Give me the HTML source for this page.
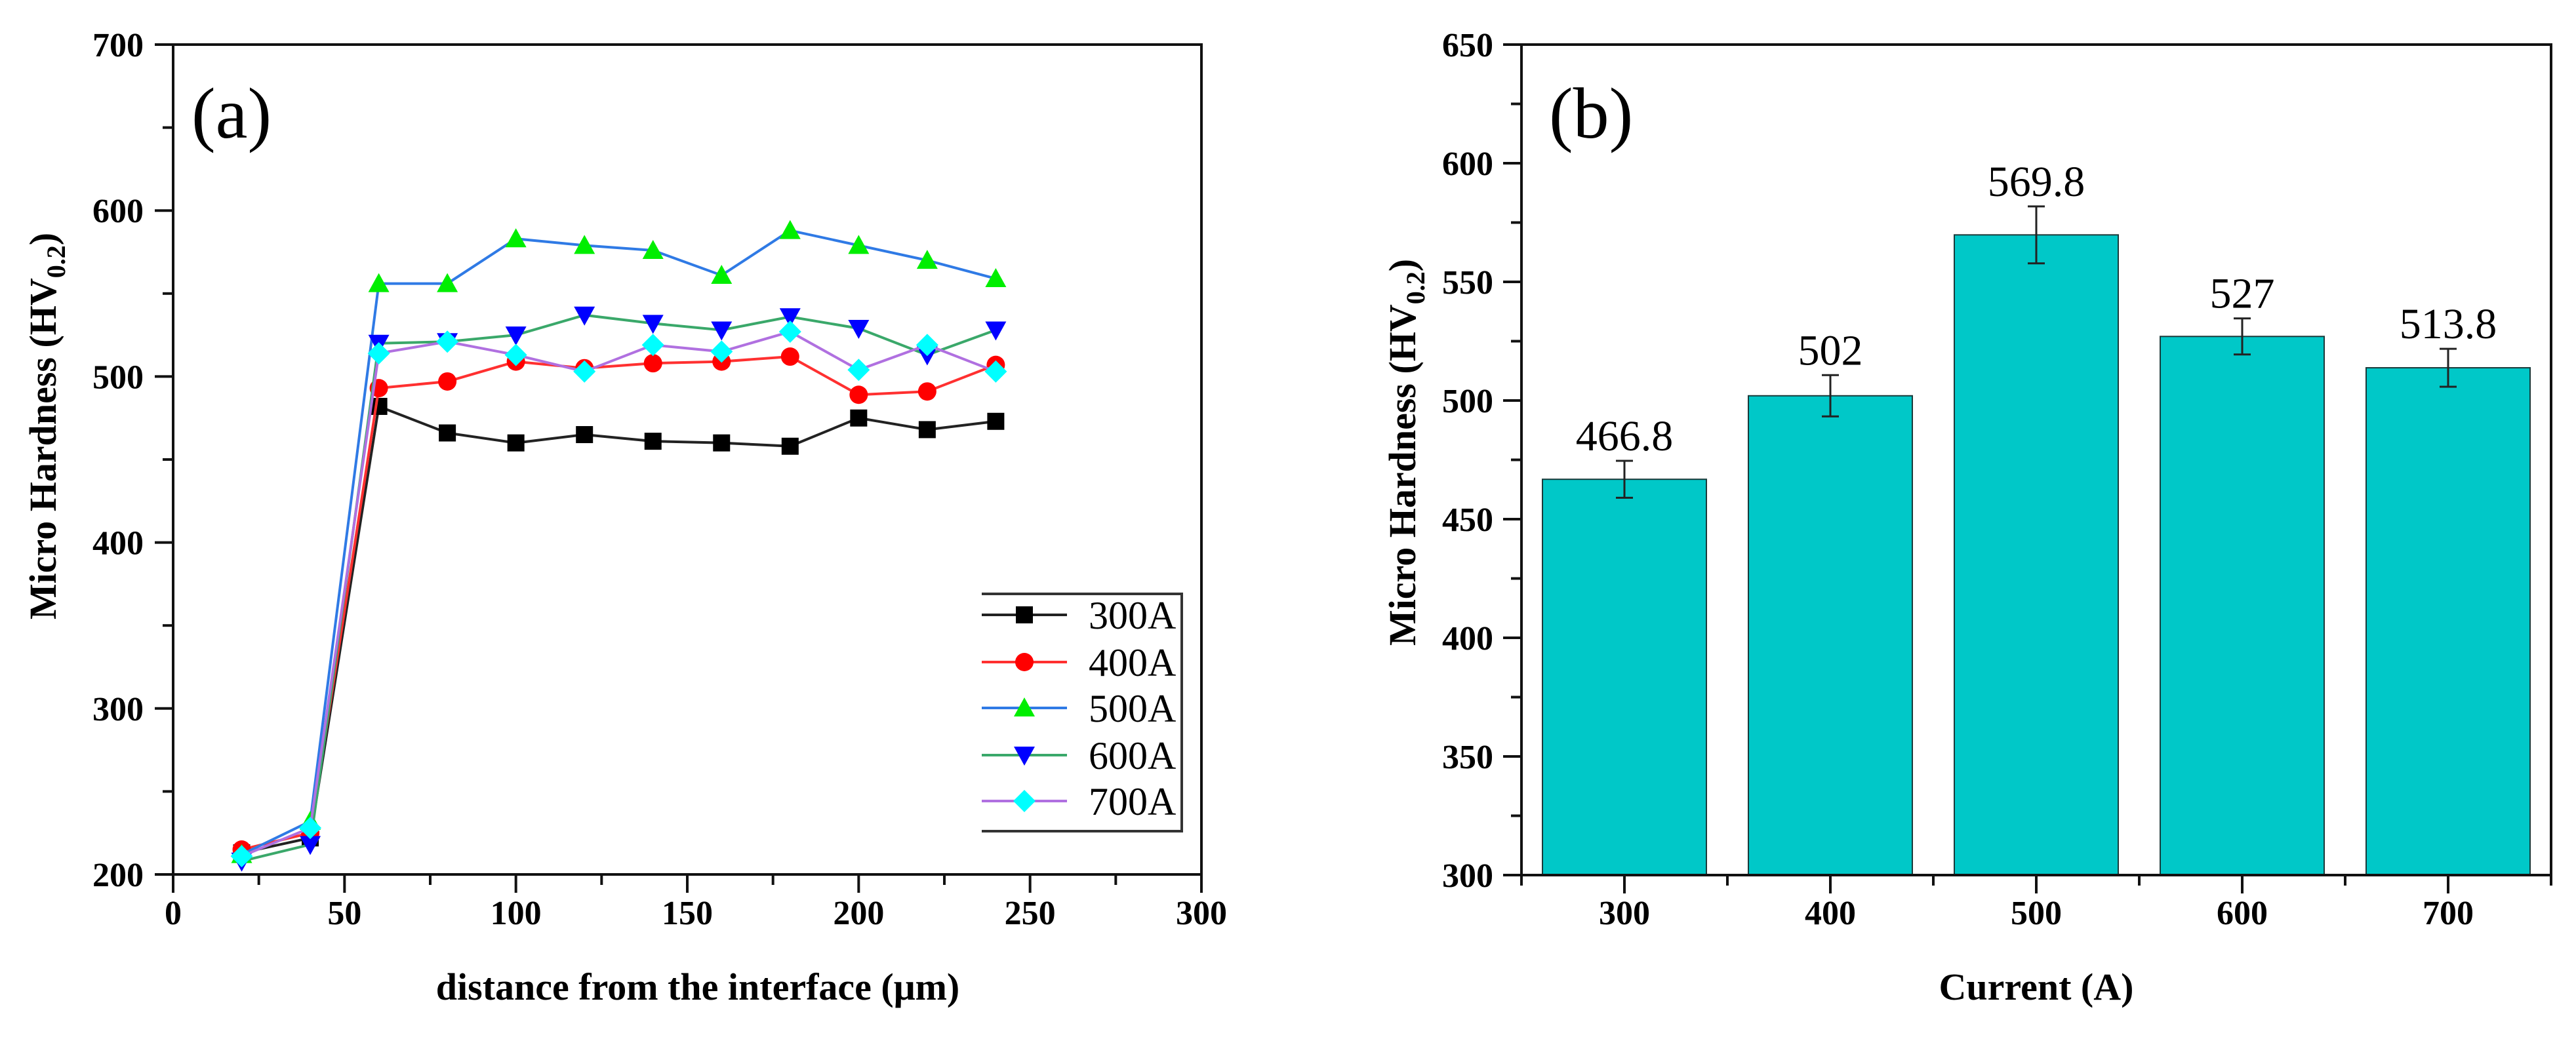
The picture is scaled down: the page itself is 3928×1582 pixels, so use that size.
<!DOCTYPE html>
<html><head><meta charset="utf-8"><style>
html,body{margin:0;padding:0;background:#fff;}
svg{display:block;font-family:"Liberation Serif",serif;}
</style></head><body>
<svg id="fig" width="3928" height="1582" viewBox="0 0 3928 1582" xmlns="http://www.w3.org/2000/svg">
<g id="pa"></g>
<g id="pb"></g>
</svg>
<script>
// Panel (a) data
const distX = [20,40,60,80,100,120,140,160,180,200,220,240];
const s300 = [213,222,482,466,460,465,461,460,458,475,468,473];
const s400 = [215,225,493,497,509,505,508,509,512,489,491,507];
const s500 = [212,232,556,556,583,579,576,561,588,579,570,559];
const s600 = [208,218,520,521,525,537,532,528,536,529,513,528];
const s700 = [211,228,514,521,513,503,519,515,527,504,519,503];
const seriesNames = ["300A","400A","500A","600A","700A"];
const aXTicks = [0,50,100,150,200,250,300];
const aYTicks = [200,300,400,500,600,700];
// Panel (b) data
const currents = ["300","400","500","600","700"];
const hardness = [466.8,502,569.8,527,513.8];
const hardErr = [7.8,8.7,12,7.6,8];
const barLabels = ["466.8","502","569.8","527","513.8"];
const bYTicks = [300,350,400,450,500,550,600,650];

const NS="http://www.w3.org/2000/svg";
function mk(parent,tag,attrs,text){const e=document.createElementNS(NS,tag);for(const k in attrs)e.setAttribute(k,attrs[k]);if(text!==undefined)e.textContent=text;parent.appendChild(e);return e;}

// ---------- Panel A ----------
const pa=document.getElementById('pa');
const aL=264,aR=1832,aT=68,aB=1334;
const ax=v=>aL+(v-0)/(300-0)*(aR-aL);
const ay=v=>aB-(v-200)/(700-200)*(aB-aT);
let e;
e=mk(pa,'rect',{x:aL,y:aT,width:aR-aL,height:aB-aT,fill:'none',stroke:'#111','stroke-width':4});


for(let v=0;v<=300;v+=25){const major=v%50===0;
 e=mk(pa,'line',{x1:ax(v),x2:ax(v),y1:aB,y2:aB+(major?28:16),stroke:'#111','stroke-width':4});
 
 }
for(let v=200;v<=700;v+=50){const major=v%100===0;
 e=mk(pa,'line',{x1:aL,x2:aL-(major?28:16),y1:ay(v),y2:ay(v),stroke:'#111','stroke-width':4});
 
 }
aXTicks.forEach(v=>{e=mk(pa,'text',{x:ax(v),y:1410,'text-anchor':'middle','font-size':52,'font-weight':'bold'},String(v));
 
 });
aYTicks.forEach(v=>{e=mk(pa,'text',{x:219,y:ay(v)+18,'text-anchor':'end','font-size':52,'font-weight':'bold'},String(v));
 
 });
e=mk(pa,'text',{x:1064,y:1525,'text-anchor':'middle','font-size':58,'font-weight':'bold'},'distance from the interface (μm)');


e=mk(pa,'text',{transform:'translate(85,650) rotate(-90)','text-anchor':'middle','font-size':58,'font-weight':'bold'});


e.innerHTML='Micro Hardness (HV<tspan font-size="40" dy="14">0.2</tspan><tspan dy="-14">)</tspan>';
e=mk(pa,'text',{x:292,y:210,'font-size':110},'(a)');



const allS=[s300,s400,s500,s600,s700];
const lineCol=['#222222','#ff3030','#2f7ae5','#3aa86a','#b070e0'];
const markCol=['#000000','#ff0000','#00ee00','#0000ff','#00ffff'];
const mtype=['square','circle','up','down','diamond'];
function marker(g,t,x,y,c,r){
 if(t==='square')return mk(g,'rect',{x:x-r,y:y-r,width:2*r,height:2*r,fill:c});
 if(t==='circle')return mk(g,'circle',{cx:x,cy:y,r:r+1,fill:c});
 if(t==='up')return mk(g,'polygon',{points:`${x},${y-r-3} ${x-r-3},${y+r} ${x+r+3},${y+r}`,fill:c});
 if(t==='down')return mk(g,'polygon',{points:`${x},${y+r+3} ${x-r-3},${y-r} ${x+r+3},${y-r}`,fill:c});
 return mk(g,'polygon',{points:`${x},${y-r-4} ${x+r+4},${y} ${x},${y+r+4} ${x-r-4},${y}`,fill:c});
}
allS.forEach((s,i)=>{
 const g=mk(pa,'g',{});
 
 
 e=mk(g,'polyline',{points:s.map((v,j)=>ax(distX[j])+','+ay(v)).join(' '),fill:'none',stroke:lineCol[i],'stroke-width':4});
 
 
 s.forEach((v,j)=>{e=marker(g,mtype[i],ax(distX[j]),ay(v),markCol[i],13);
  
  });
});
// legend
const lg=mk(pa,'g',{});


e=mk(lg,'polyline',{points:'1497,906 1802,906 1802,1268 1497,1268',fill:'#fff',stroke:'#333','stroke-width':4});


const legY=[938,1010,1080,1152,1222];
seriesNames.forEach((n,i)=>{
 const g=mk(lg,'g',{});
 
 
 mk(g,'line',{x1:1497,x2:1627,y1:legY[i],y2:legY[i],stroke:lineCol[i],'stroke-width':4});
 marker(g,mtype[i],1562,legY[i],markCol[i],13);
 mk(g,'text',{x:1660,y:legY[i]+21,'font-size':60},n);
});

// ---------- Panel B ----------
const pb=document.getElementById('pb');
const bL=2320,bR=3890,bT=68,bB=1335;
const bx=i=>bL+(i+0.5)*(bR-bL)/5;
const by=v=>bB-(v-300)/(650-300)*(bB-bT);
const bw=250;
hardness.forEach((v,i)=>{
 e=mk(pb,'rect',{x:bx(i)-bw/2,y:by(v),width:bw,height:bB-by(v),fill:'#00c8c8',stroke:'#1a3a3a','stroke-width':2});
 
 
 const hi=by(v+hardErr[i]),lo=by(v-hardErr[i]),c=bx(i);
 e=mk(pb,'path',{d:`M${c},${hi}V${lo}M${c-13},${hi}H${c+13}M${c-13},${lo}H${c+13}`,stroke:'#222','stroke-width':3,fill:'none'});
 
 
 e=mk(pb,'text',{x:c,y:hi-16,'text-anchor':'middle','font-size':66},barLabels[i]);
 
 
});
e=mk(pb,'rect',{x:bL,y:bT,width:bR-bL,height:bB-bT,fill:'none',stroke:'#111','stroke-width':4});


for(let v=300;v<=650;v+=25){const major=v%50===0;
 e=mk(pb,'line',{x1:bL,x2:bL-(major?28:16),y1:by(v),y2:by(v),stroke:'#111','stroke-width':4});
 
 }
for(let i=0;i<5;i++){
 e=mk(pb,'line',{x1:bx(i),x2:bx(i),y1:bB,y2:bB+28,stroke:'#111','stroke-width':4});
 
 }
for(let i=0;i<=5;i++){const xx=bL+i*(bR-bL)/5;
 e=mk(pb,'line',{x1:xx,x2:xx,y1:bB,y2:bB+16,stroke:'#111','stroke-width':4});
 
 }
currents.forEach((c,i)=>{e=mk(pb,'text',{x:bx(i),y:1410,'text-anchor':'middle','font-size':52,'font-weight':'bold'},c);
 
 });
bYTicks.forEach(v=>{e=mk(pb,'text',{x:2277,y:by(v)+18,'text-anchor':'end','font-size':52,'font-weight':'bold'},String(v));
 
 });
e=mk(pb,'text',{x:3105,y:1525,'text-anchor':'middle','font-size':58,'font-weight':'bold'},'Current (A)');


e=mk(pb,'text',{transform:'translate(2158,690) rotate(-90)','text-anchor':'middle','font-size':58,'font-weight':'bold'});


e.innerHTML='Micro Hardness (HV<tspan font-size="40" dy="14">0.2</tspan><tspan dy="-14">)</tspan>';
e=mk(pb,'text',{x:2362,y:210,'font-size':110},'(b)');


</script>
</body></html>
